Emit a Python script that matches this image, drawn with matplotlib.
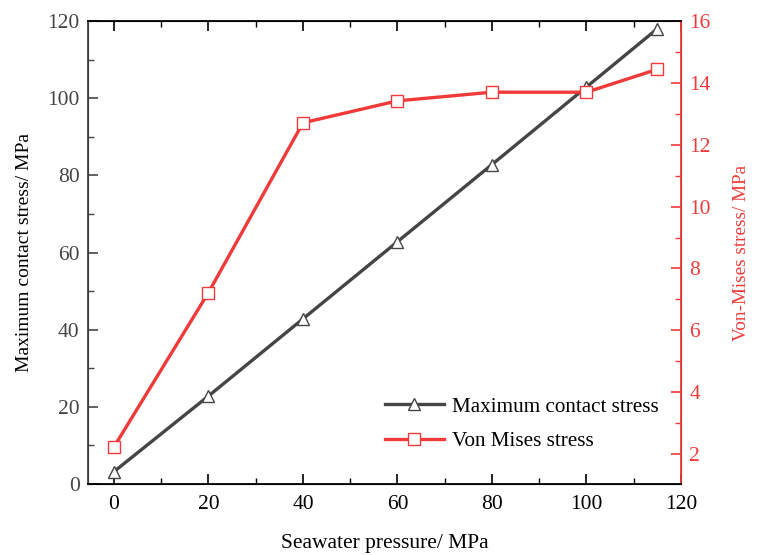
import matplotlib.pyplot as plt
from matplotlib.ticker import MultipleLocator

plt.rcParams['font.family'] = ['Liberation Serif', 'DejaVu Serif']

# data
pressure = [0, 20, 40, 60, 80, 100, 115]
contact_stress = [3.2, 22.8, 42.8, 62.8, 82.8, 102.9, 118.0]
von_mises = [2.23, 7.22, 12.71, 13.42, 13.70, 13.70, 14.44]

gray = '#454545'
red = '#F03A3A'

fig = plt.figure(figsize=(7.64, 5.55), dpi=100)
ax = fig.add_axes([0.1152, 0.128, 0.776, 0.834])
ax2 = ax.twinx()

ax.plot(pressure, contact_stress, color=gray, lw=2.4, marker='^', ms=9,
        mfc='white', mec=gray, mew=1.0, label='Maximum contact stress')
ax2.plot(pressure, von_mises, color=red, lw=2.4, marker='s', ms=8,
         mfc='white', mec=red, mew=1.0, label='Von Mises stress')

ax.set_xlim(-5.5, 120)
ax.set_ylim(0, 120)
ax2.set_ylim(1.03, 16)

ax.xaxis.set_major_locator(MultipleLocator(20))
ax.xaxis.set_minor_locator(MultipleLocator(10))
ax.yaxis.set_major_locator(MultipleLocator(20))
ax.yaxis.set_minor_locator(MultipleLocator(10))
ax2.yaxis.set_major_locator(MultipleLocator(2))
ax2.yaxis.set_minor_locator(MultipleLocator(1))

ax.tick_params(axis='x', which='both', direction='in', top=True, colors='black',
               labelsize=15.5, pad=8)
ax.tick_params(axis='x', which='major', length=7, width=1.2)
ax.tick_params(axis='x', which='minor', length=4, width=1.0)
ax.tick_params(axis='y', which='both', direction='in', colors=gray, labelsize=15.5, pad=6)
ax.tick_params(axis='y', which='major', length=7, width=1.2)
ax.tick_params(axis='y', which='minor', length=4, width=1.0)
ax2.tick_params(axis='y', which='both', direction='in', colors=red, labelsize=15.5, pad=6)
ax2.tick_params(axis='y', which='major', length=7, width=1.2)
ax2.tick_params(axis='y', which='minor', length=4, width=1.0)

for s in ['top', 'bottom']:
    ax2.spines[s].set_color('black')
    ax2.spines[s].set_linewidth(1.3)
ax2.spines['left'].set_color(gray)
ax2.spines['left'].set_linewidth(1.3)
ax2.spines['right'].set_color(red)
ax2.spines['right'].set_linewidth(1.3)

ax.set_xlabel('Seawater pressure/ MPa', fontsize=15.5, labelpad=14)
ax.set_ylabel('Maximum contact stress/ MPa', fontsize=14, color='black', labelpad=10)
ax2.set_ylabel('Von-Mises stress/ MPa', fontsize=13.8, color=red, labelpad=16)

h1, l1 = ax.get_legend_handles_labels()
h2, l2 = ax2.get_legend_handles_labels()
ax2.legend(h1 + h2, l1 + l2, loc='lower right', bbox_to_anchor=(0.995, 0.03),
           frameon=False, fontsize=15.2, handlelength=2.8, handletextpad=0.4,
           labelspacing=0.7)

fig.savefig('out.png', dpi=100)
